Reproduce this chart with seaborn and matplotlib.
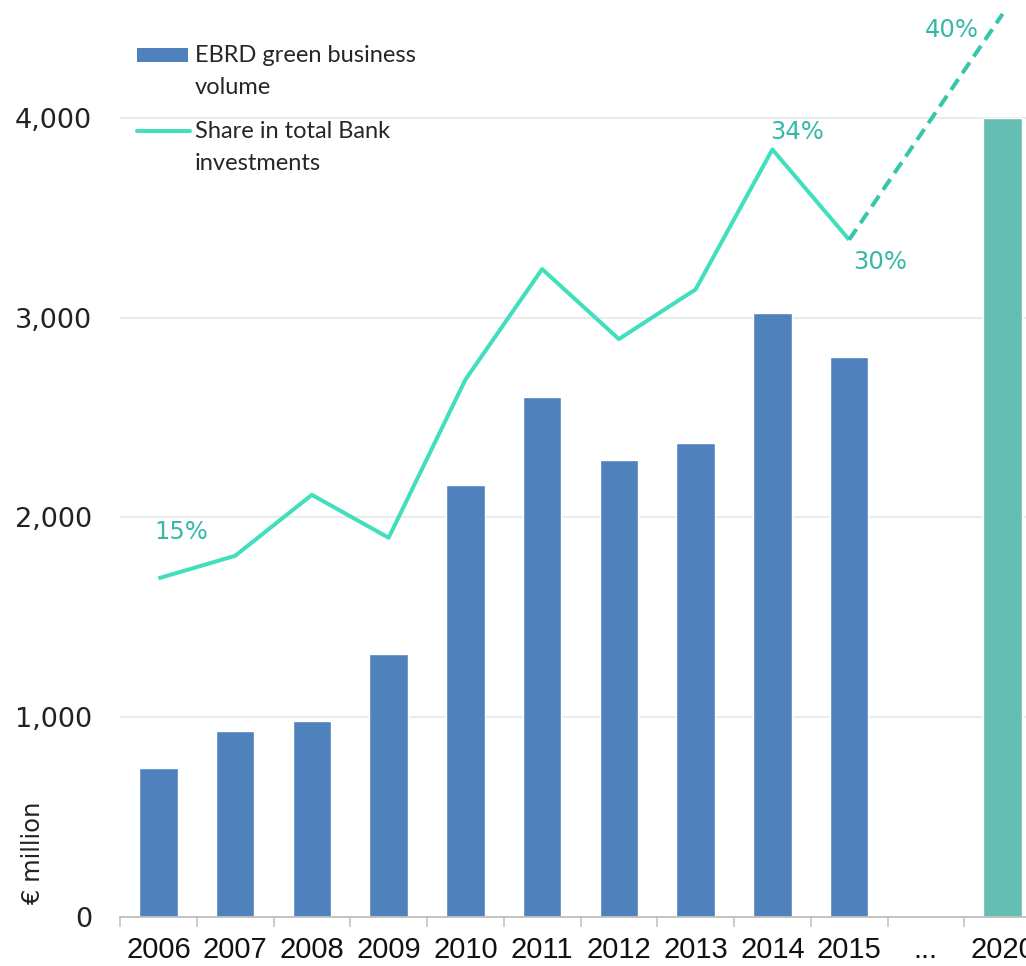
import numpy as np
import pandas as pd
import seaborn as sns
import matplotlib.pyplot as plt
from matplotlib.patches import Rectangle
from matplotlib.lines import Line2D

# ---- data -------------------------------------------------------------
categories = ["2006", "2007", "2008", "2009", "2010", "2011",
              "2012", "2013", "2014", "2015", "...", "2020"]
volume = [746, 930, 982, 1318, 2160, 2605, 2285, 2372, 3022, 2802, np.nan, 4000]

share_years = ["2006", "2007", "2008", "2009", "2010",
               "2011", "2012", "2013", "2014", "2015"]
share = [15.0, 16.0, 18.7, 16.8, 23.8, 28.7, 25.6, 27.8, 34.0, 30.0]

target_years = ["2015", "2020"]
target_share = [30.0, 40.0]

labelled_years = ["2006", "2014", "2015", "2020"]

y_ticks = [0, 1000, 2000, 3000, 4000]

legend_bar = ["EBRD green business", "volume"]
legend_line = ["Share in total Bank", "investments"]

# ---- style ------------------------------------------------------------
BLUE = "#4F81BD"
TEAL_BAR = "#66BDB2"
LINE = "#42DFBD"
LINE_DASH = "#34C7AA"
LABEL = "#36B8A6"
GRID = "#E8E8E8"
AXIS = "#BFBFBF"

sns.set_theme(style="white")
plt.rcParams["font.family"] = ["DejaVu Sans"]

W, H = 1026, 966
fig = plt.figure(figsize=(W / 100, H / 100), dpi=100)
fig.patch.set_facecolor("white")

# axes extend slightly past the right edge of the canvas
ax = fig.add_axes([120 / W, 49 / H, (1041 - 120) / W, 917 / H])

df = pd.DataFrame({"year": categories, "volume": volume})
palette = {c: BLUE for c in categories}
palette["..."] = BLUE
palette["2020"] = TEAL_BAR

sns.barplot(data=df, x="year", y="volume", hue="year", palette=palette,
            order=categories, hue_order=categories, width=0.5,
            saturation=1, legend=False, ax=ax)

EUR_TOP = 4590
EUR_PER_PCT = 113.0
ax.set_xlim(-0.5, len(categories) - 0.5)
ax.set_ylim(0, EUR_TOP)

ax.set_yticks(y_ticks)
ax.set_yticklabels([f"{v:,}" for v in y_ticks], fontsize=19.5, color="#222222")
ax.set_xticks(range(len(categories)))
ax.set_xticklabels(categories, fontsize=21, color="#111111",
                   family=["Liberation Sans", "DejaVu Sans"])
ax.set_xticks(np.arange(-0.5, len(categories), 1.0), minor=True)
ax.tick_params(axis="x", which="major", length=0, pad=14)
ax.tick_params(axis="x", which="minor", length=7, width=1.1, color=AXIS,
               direction="out", bottom=True)
ax.tick_params(axis="y", length=0, pad=20)
ax.set_xlabel("")
ax.set_ylabel("")

ax.yaxis.grid(True, color=GRID, linewidth=1.2)
ax.set_axisbelow(True)
for side in ("top", "right", "left"):
    ax.spines[side].set_visible(False)
ax.spines["bottom"].set_color(AXIS)
ax.spines["bottom"].set_linewidth(1.3)

fig.text(33 / W, 1 - 905 / H, "€ million", rotation=90, ha="center",
         va="bottom", fontsize=17.5, color="#222222")

# ---- share line on a secondary scale -----------------------------------
ax2 = ax.twinx()
ax2.set_ylim(0, EUR_TOP / EUR_PER_PCT)
ax2.set_axis_off()

pos = [categories.index(y) for y in share_years]
sns.lineplot(x=pos, y=share, ax=ax2, color=LINE, linewidth=2.9, sort=False)

tpos = [categories.index(y) for y in target_years]
sns.lineplot(x=tpos, y=target_share, ax=ax2, color=LINE_DASH,
             linewidth=2.9, sort=False)
ax2.lines[-1].set_linestyle((0, (3.2, 1.8)))
for ln in ax2.lines:
    ln.set_solid_capstyle("butt")
    ln.set_clip_on(False)

all_share = dict(zip(share_years, share))
all_share.update(dict(zip(target_years, target_share)))
offsets = {"2006": (23, 46), "2014": (25, 17), "2015": (31, -22), "2020": (-51, -16)}
for y in labelled_years:
    v = all_share[y]
    ax2.annotate(f"{v:.0f}%", xy=(categories.index(y), v),
                 xytext=offsets[y], textcoords="offset pixels",
                 ha="center", va="center", fontsize=17.5, color=LABEL)

# ---- legend -----------------------------------------------------------
fig.add_artist(Rectangle((137 / W, 1 - 62 / H), 51 / W, 14 / H,
                         transform=fig.transFigure, facecolor=BLUE,
                         edgecolor="none"))
fig.add_artist(Line2D([137 / W, 190 / W], [1 - 131 / H, 1 - 131 / H],
                      transform=fig.transFigure, color=LINE, linewidth=2.9))
legend_font = dict(fontsize=17, color="#262626", va="center", ha="left",
                   family=["Lato", "DejaVu Sans"])
for text, py in zip(legend_bar, [55, 88]):
    fig.text(195 / W, 1 - py / H, text, **legend_font)
for text, py in zip(legend_line, [131, 163]):
    fig.text(195 / W, 1 - py / H, text, **legend_font)

fig.savefig("out.png", dpi=100, facecolor="white")
